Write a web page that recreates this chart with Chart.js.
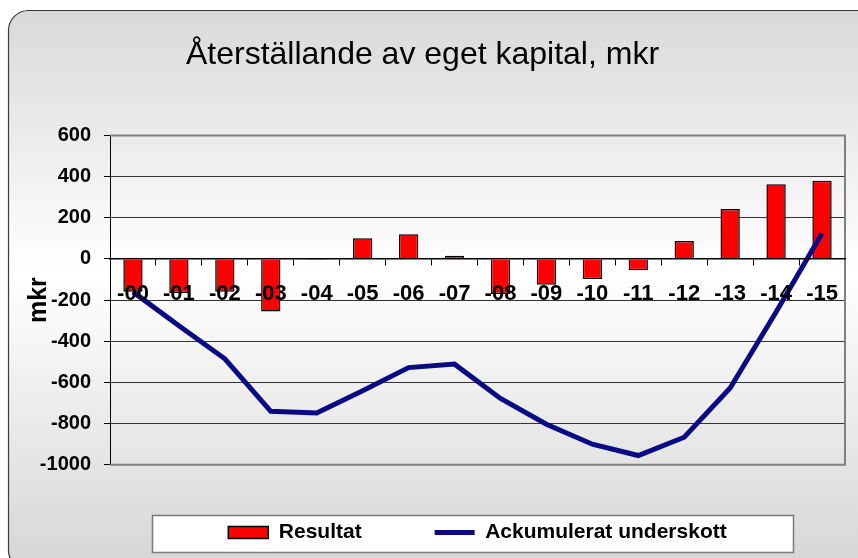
<!DOCTYPE html>
<html>
<head>
<meta charset="utf-8">
<script src="https://cdn.jsdelivr.net/npm/chart.js@4"></script>
<style>
  html, body { margin: 0; padding: 0; background: #fff; }
  #wrap { width: 858px; height: 558px; }
</style>
</head>
<body>
<div id="wrap"><canvas id="kapitalChart" width="858" height="558"></canvas></div>
<script>
// År (etiketter på x-axeln)
const years = ['-00', '-01', '-02', '-03', '-04', '-05', '-06', '-07', '-08', '-09', '-10', '-11', '-12', '-13', '-14', '-15'];
// Årets resultat, mkr
const resultat = [-160, -165, -160, -255, -5, 100, 120, 15, -170, -125, -97, -55, 87, 242, 363, 380];
// Ackumulerat underskott, mkr
const ackumulerat = [-160, -325, -485, -740, -748, -640, -528, -511, -678, -803, -900, -955, -866, -627, -258, 125];
// Skalsteg på y-axeln
const yTicks = [600, 400, 200, 0, -200, -400, -600, -800, -1000];

const FONT = '"Liberation Sans", Arial, sans-serif';

// bakgrund med rundade hörn och gradient, plus vit ruta bakom förklaringen
const bakgrund = {
    id: 'bakgrund',
    beforeDraw(chart) {
        const ctx = chart.ctx;
        ctx.save();
        ctx.fillStyle = '#fff';
        ctx.fillRect(0, 0, chart.width, chart.height);
        const g = ctx.createLinearGradient(0, 10, 0, 558);
        g.addColorStop(0, '#d9d9d9');
        g.addColorStop(0.48, '#ffffff');
        g.addColorStop(1, '#d7d7d7');
        ctx.beginPath();
        ctx.roundRect(8.5, 10.5, 880, 560, 20);
        ctx.fillStyle = g;
        ctx.fill();
        ctx.strokeStyle = '#3a3a3a';
        ctx.lineWidth = 1.2;
        ctx.stroke();

        const lg = chart.legend;
        if (lg && lg.legendHitBoxes && lg.legendHitBoxes.length) {
            const hb = lg.legendHitBoxes;
            const first = hb[0], last = hb[hb.length - 1];
            const x1 = Math.round(first.left - 76) + 0.5;
            const x2 = Math.round(last.left + last.width + 66) + 0.5;
            const y1 = Math.round(first.top + first.height / 2 - 18) + 0.5;
            const y2 = y1 + 37;
            ctx.fillStyle = '#ffffff';
            ctx.fillRect(x1, y1, x2 - x1, y2 - y1);
            ctx.strokeStyle = '#7a7a7a';
            ctx.lineWidth = 1.5;
            ctx.strokeRect(x1, y1, x2 - x1, y2 - y1);
        }
        ctx.restore();
    },
    beforeDatasetsDraw(chart) {
        // ram runt diagramytan (topp, höger, botten)
        const { ctx, chartArea: a } = chart;
        ctx.save();
        ctx.strokeStyle = '#808080';
        ctx.lineWidth = 2;
        ctx.beginPath();
        ctx.moveTo(a.left, a.top);
        ctx.lineTo(a.right, a.top);
        ctx.lineTo(a.right, a.bottom);
        ctx.lineTo(a.left, a.bottom);
        ctx.stroke();
        ctx.restore();
    }
};

const ctx = document.getElementById('kapitalChart').getContext('2d');
new Chart(ctx, {
    data: {
        labels: years,
        datasets: [
            {
                type: 'bar',
                label: 'Resultat',
                data: resultat,
                backgroundColor: '#ff0000',
                borderColor: '#000000',
                borderWidth: 1.5,
                barPercentage: 0.42,
                categoryPercentage: 1.0,
                order: 1
            },
            {
                type: 'line',
                label: 'Ackumulerat underskott',
                data: ackumulerat,
                borderColor: '#0a0a84',
                backgroundColor: '#0a0a84',
                borderWidth: 5,
                pointRadius: 0,
                tension: 0,
                order: 0
            }
        ]
    },
    options: {
        responsive: false,
        animation: false,
        devicePixelRatio: 1,
        layout: { padding: { left: 0, right: 13, top: 0, bottom: 5 } },
        plugins: {
            title: {
                display: true,
                text: 'Återställande av eget kapital, mkr',
                color: '#000',
                font: { family: FONT, size: 32, weight: 'normal' },
                padding: { top: 36, bottom: 61 }
            },
            legend: {
                position: 'bottom',
                fullSize: false,
                title: { display: true, text: '', font: { size: 1 }, padding: { top: 46, bottom: 0 } },
                labels: {
                    color: '#000',
                    font: { family: FONT, size: 21, weight: 'bold' },
                    usePointStyle: true,
                    pointStyleWidth: 40,
                    boxHeight: 12,
                    padding: 10,
                    sort: (a, b) => a.datasetIndex - b.datasetIndex,
                    generateLabels(chart) {
                        const items = Chart.defaults.plugins.legend.labels.generateLabels(chart);
                        items.forEach(it => {
                            if (it.datasetIndex === 0) {
                                it.pointStyle = 'rect';
                                it.lineWidth = 1.5;
                                it.strokeStyle = '#000';
                                it.text = it.text + '\u2003\u2003\u2003';
                            } else {
                                it.pointStyle = 'line';
                                it.lineWidth = 5;
                            }
                        });
                        return items;
                    }
                }
            },
            tooltip: { enabled: false }
        },
        scales: {
            x: {
                position: { y: 0 },
                offset: true,
                grid: { display: true, drawOnChartArea: false, drawTicks: true, tickLength: 6, color: '#000', offset: true },
                border: { display: true, color: '#000', width: 1.5, z: 1 },
                ticks: {
                    z: 1,
                    color: '#000',
                    font: { family: FONT, size: 22, weight: 'bold' },
                    padding: 16,
                    maxRotation: 0,
                    autoSkip: false
                }
            },
            y: {
                min: -1000,
                max: 600,
                afterFit(scale) { scale.width = 110; },
                afterBuildTicks(scale) { scale.ticks = yTicks.map(v => ({ value: v })); },
                grid: {
                    color: c => (c.tick && (c.tick.value === 600 || c.tick.value === -1000)) ? 'rgba(0,0,0,0)' : '#333',
                    lineWidth: 1,
                    tickLength: 6,
                    tickColor: '#000'
                },
                border: { display: true, color: '#000', width: 1 },
                ticks: {
                    color: '#000',
                    font: { family: FONT, size: 20, weight: 'bold' },
                    padding: 13,
                    callback: v => String(v)
                },
                title: {
                    display: true,
                    text: 'mkr',
                    color: '#000',
                    font: { family: FONT, size: 25, weight: 'bold' },
                    padding: { top: 24, bottom: 0 }
                }
            }
        }
    },
    plugins: [bakgrund]
});
</script>
</body>
</html>
